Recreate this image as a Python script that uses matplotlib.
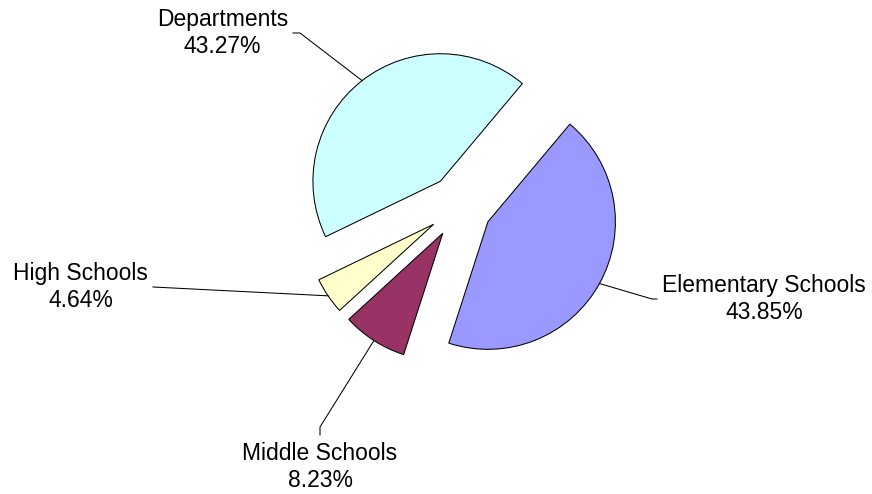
import numpy as np
import matplotlib
matplotlib.use("Agg")
import matplotlib.pyplot as plt

# data, counterclockwise from the start angle
labels = ["Departments", "High Schools", "Middle Schools", "Elementary Schools"]
shares = [43.27, 4.64, 8.23, 43.85]
colors = ["#CCFFFF", "#FFFFCC", "#993366", "#9999FF"]

W, H = 872, 494
R = 127.5
plt.rcParams["font.family"] = ["Liberation Sans", "DejaVu Sans"]

fig = plt.figure(figsize=(W / 100, H / 100), dpi=100)
ax = fig.add_axes([0, 0, 1, 1])

# explode offsets are in data units, so scale by the radius
wedges, _ = ax.pie(
    shares,
    colors=colors,
    explode=[0.25 * R] * len(shares),
    startangle=50,
    counterclock=True,
    center=(460, H - 206.4),
    radius=R,
    wedgeprops=dict(edgecolor="black", linewidth=0.75),
)
ax.set_xlim(0, W)
ax.set_ylim(0, H)
ax.set_aspect("equal")
ax.axis("off")

# label layout in pixels (top-left origin): elbow point, leader end, text anchor, alignment
layout = {
    "Departments": ((300, 33), (293, 33), (288, 33), "right", "center"),
    "High Schools": ((153, 287), (153, 287), (148, 287), "right", "center"),
    "Middle Schools": ((320, 435), (320, 427), (320, 442), "center", "top"),
    "Elementary Schools": ((652, 299), (657, 299), (662, 299), "left", "center"),
}

for w, name, val in zip(wedges, labels, shares):
    mid = np.deg2rad((w.theta1 + w.theta2) / 2)
    cx, cy = w.center
    px, py = cx + w.r * np.cos(mid), cy + w.r * np.sin(mid)
    elbow, end, txt, ha, va = layout[name]
    if name == "Middle Schools":
        xs = [px, end[0], elbow[0]]
        ys = [py, H - end[1], H - elbow[1]]
    else:
        xs = [px, elbow[0], end[0]]
        ys = [py, H - elbow[1], H - end[1]]
    ax.plot(xs, ys, color="black", linewidth=0.75)
    ax.text(txt[0], H - txt[1], f"{name}\n{val:.2f}%", ha=ha, va=va,
            multialignment="center", fontsize=16.5, linespacing=1.2, color="black")

fig.savefig("out.png", dpi=100)
